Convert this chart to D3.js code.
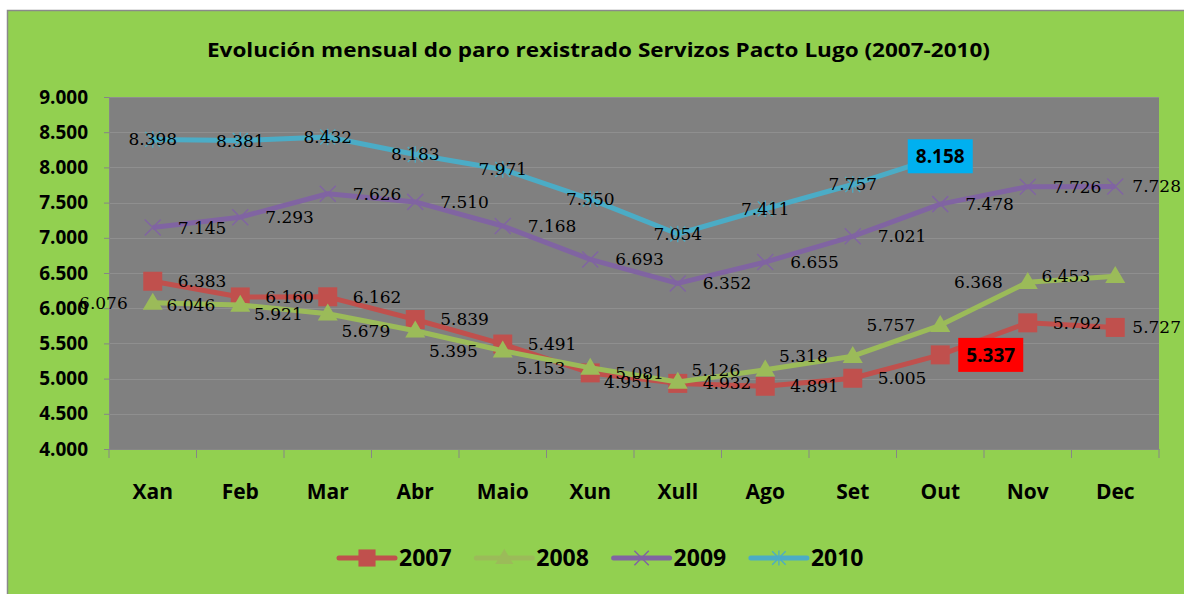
<!DOCTYPE html>
<html>
<head>
<meta charset="utf-8">
<title>Evolución mensual do paro rexistrado</title>
<script src="https://d3js.org/d3.v7.min.js"></script>
<style>
    body { margin: 0; background: #fff; overflow: hidden; }
    text { fill: #000; }
    .axis-label { font-family: 'Open Sans', sans-serif; font-weight: 700; }
    .data-label { font-family: 'DejaVu Serif', serif; font-size: 17px; }
</style>
</head>
<body>
<svg width="1184" height="594"></svg>
<script>
// DATA ========================================================
const months = ["Xan","Feb","Mar","Abr","Maio","Xun","Xull","Ago","Set","Out","Nov","Dec"];
const years = ["2007","2008","2009","2010"];
const values2007 = [6383,6160,6162,5839,5491,5081,4932,4891,5005,5337,5792,5727];
const values2008 = [6076,6046,5921,5679,5395,5153,4951,5126,5318,5757,6368,6453];
const values2009 = [7145,7293,7626,7510,7168,6693,6352,6655,7021,7478,7726,7728];
const values2010 = [8398,8381,8432,8183,7971,7550,7054,7411,7757,8158];
const yTicks = [4000,4500,5000,5500,6000,6500,7000,7500,8000,8500,9000];
const title = "Evolución mensual do paro rexistrado Servizos Pacto Lugo (2007-2010)";

// SETUP =======================================================
const svg = d3.select("svg");
const plot = {left: 109, right: 1159, top: 97, bottom: 449};
const green = "#92d050";

const locale = d3.formatLocale({decimal: ",", thousands: ".", grouping: [3], currency: ["", " €"]});
const fmt = locale.format(",");

const x = d3.scaleBand().domain(months).range([plot.left, plot.right]);
const y = d3.scaleLinear().domain([4000, 9000]).range([plot.bottom, plot.top]);
const cx = m => x(m) + x.bandwidth() / 2;

const series = [
    {name: years[0], values: values2007, color: "#c0504d", marker: "square", label: "right", highlight: {idx: 9, fill: "#ff0000"}},
    {name: years[1], values: values2008, color: "#9bbb59", marker: "triangle", label: "left"},
    {name: years[2], values: values2009, color: "#8064a2", marker: "x", label: "right"},
    {name: years[3], values: values2010, color: "#4bacc6", marker: "star", label: "center", highlight: {idx: 9, fill: "#00b0f0"}}
];

// CHART BACKGROUND ============================================
svg.append("rect")
    .attr("x", 7.5).attr("y", 10.5)
    .attr("width", 1200).attr("height", 600)
    .attr("fill", green)
    .attr("stroke", "#8a8a8a").attr("stroke-width", 1.5);

svg.append("text")
    .attr("class", "axis-label")
    .attr("x", 598.5).attr("y", 50)
    .attr("dy", "0.35em")
    .attr("text-anchor", "middle")
    .attr("font-size", 20)
    .attr("font-weight", 600)
    .attr("textLength", 783)
    .attr("lengthAdjust", "spacingAndGlyphs")
    .text(title);

svg.append("rect")
    .attr("x", plot.left).attr("y", plot.top)
    .attr("width", plot.right - plot.left).attr("height", plot.bottom - plot.top)
    .attr("fill", "#808080");

// GRID + AXES =================================================
svg.append("g")
    .selectAll("line")
    .data(yTicks)
    .join("line")
    .attr("x1", plot.left).attr("x2", plot.right)
    .attr("y1", d => Math.round(y(d)) + 0.5).attr("y2", d => Math.round(y(d)) + 0.5)
    .attr("stroke", "#8f8f8f").attr("stroke-width", 1);

const yAxis = svg.append("g")
    .attr("transform", `translate(${plot.left},0)`)
    .call(d3.axisLeft(y).tickValues(yTicks).tickFormat(fmt).tickSize(5).tickPadding(16));
yAxis.select(".domain").attr("stroke", "#868686");
yAxis.selectAll(".tick line").attr("stroke", "#868686");
yAxis.selectAll("text")
    .attr("class", "axis-label")
    .attr("font-size", 19)
    .attr("fill", "#000");

const xAxis = svg.append("g")
    .attr("transform", `translate(0,${plot.bottom})`)
    .call(d3.axisBottom(x).tickSize(0).tickPadding(35));
xAxis.select(".domain").attr("stroke", "#868686");
xAxis.selectAll("text")
    .attr("class", "axis-label")
    .attr("font-size", 21)
    .attr("fill", "#000");

// category boundary ticks
svg.append("g")
    .selectAll("line")
    .data(months.map(m => x(m)).concat([plot.right]))
    .join("line")
    .attr("x1", d => d).attr("x2", d => d)
    .attr("y1", plot.bottom).attr("y2", plot.bottom + 9)
    .attr("stroke", "#868686");

// MARKERS =====================================================
function drawMarker(g, type, color, s) {
    if (type === "square") {
        g.append("rect").attr("x", -s / 2).attr("y", -s / 2).attr("width", s).attr("height", s)
            .attr("fill", color);
    } else if (type === "triangle") {
        const h = s * 0.85;
        g.append("path").attr("d", `M0,${-h * 0.6}L${s / 2},${h * 0.4}L${-s / 2},${h * 0.4}Z`)
            .attr("fill", color);
    } else if (type === "x") {
        const r = s / 2;
        g.append("path").attr("d", `M${-r},${-r}L${r},${r}M${-r},${r}L${r},${-r}`)
            .attr("stroke", color).attr("stroke-width", 1.5).attr("fill", "none");
    } else if (type === "star") {
        const r = s / 2;
        g.append("path").attr("d", `M${-r},${-r}L${r},${r}M${-r},${r}L${r},${-r}M0,${-r * 1.1}L0,${r * 1.1}`)
            .attr("stroke", color).attr("stroke-width", 1.3).attr("fill", "none");
    }
}

const markerSize = {square: 19, triangle: 20, x: 16, star: 15};
const line = d3.line().x((d, i) => cx(months[i])).y(d => y(d));

series.forEach(s => {
    svg.append("path")
        .datum(s.values)
        .attr("d", line)
        .attr("fill", "none")
        .attr("stroke", s.color)
        .attr("stroke-width", 5)
        .attr("stroke-linejoin", "round");

    svg.append("g")
        .selectAll("g")
        .data(s.values)
        .join("g")
        .attr("transform", (d, i) => `translate(${cx(months[i])},${y(d)})`)
        .each(function() { drawMarker(d3.select(this), s.marker, s.color, markerSize[s.marker]); });
});

// DATA LABELS =================================================
const labelLayer = svg.append("g");
series.forEach(s => {
    s.values.forEach((v, i) => {
        const px = cx(months[i]), py = y(v);
        const hl = s.highlight && s.highlight.idx === i;
        if (hl) {
            const bw = 65, bh = 34;
            const bx = s.label === "center" ? px - bw / 2 : px + 18;
            labelLayer.append("rect")
                .attr("x", bx).attr("y", py - bh / 2)
                .attr("width", bw).attr("height", bh)
                .attr("fill", s.highlight.fill);
            labelLayer.append("text")
                .attr("class", "axis-label")
                .attr("font-size", 19)
                .attr("x", bx + bw / 2).attr("y", py)
                .attr("dy", "0.35em")
                .attr("text-anchor", "middle")
                .text(fmt(v));
            return;
        }
        const t = labelLayer.append("text")
            .attr("class", "data-label")
            .attr("y", py)
            .attr("dy", "0.35em")
            .text(fmt(v));
        if (s.label === "center") {
            t.attr("x", px).attr("text-anchor", "middle");
        } else if (s.label === "left") {
            t.attr("x", px - 25).attr("text-anchor", "end");
        } else {
            const w = t.node().getComputedTextLength();
            t.attr("x", Math.min(px + 25, 1181 - w));
        }
    });
});

// LEGEND ======================================================
const legend = svg.append("g").attr("transform", "translate(339,558)");
series.forEach((s, i) => {
    const g = legend.append("g").attr("transform", `translate(${i * 137.3},0)`);
    g.append("line").attr("x1", 0).attr("x2", 56).attr("y1", 0).attr("y2", 0)
        .attr("stroke", s.color).attr("stroke-width", 5).attr("stroke-linecap", "round");
    const m = g.append("g").attr("transform", "translate(28,0)");
    drawMarker(m, s.marker, s.color, markerSize[s.marker] * 0.9);
    g.append("text")
        .attr("class", "axis-label")
        .attr("font-size", 23)
        .attr("x", 60).attr("y", 0)
        .attr("dy", "0.35em")
        .text(s.name);
});
</script>
</body>
</html>
